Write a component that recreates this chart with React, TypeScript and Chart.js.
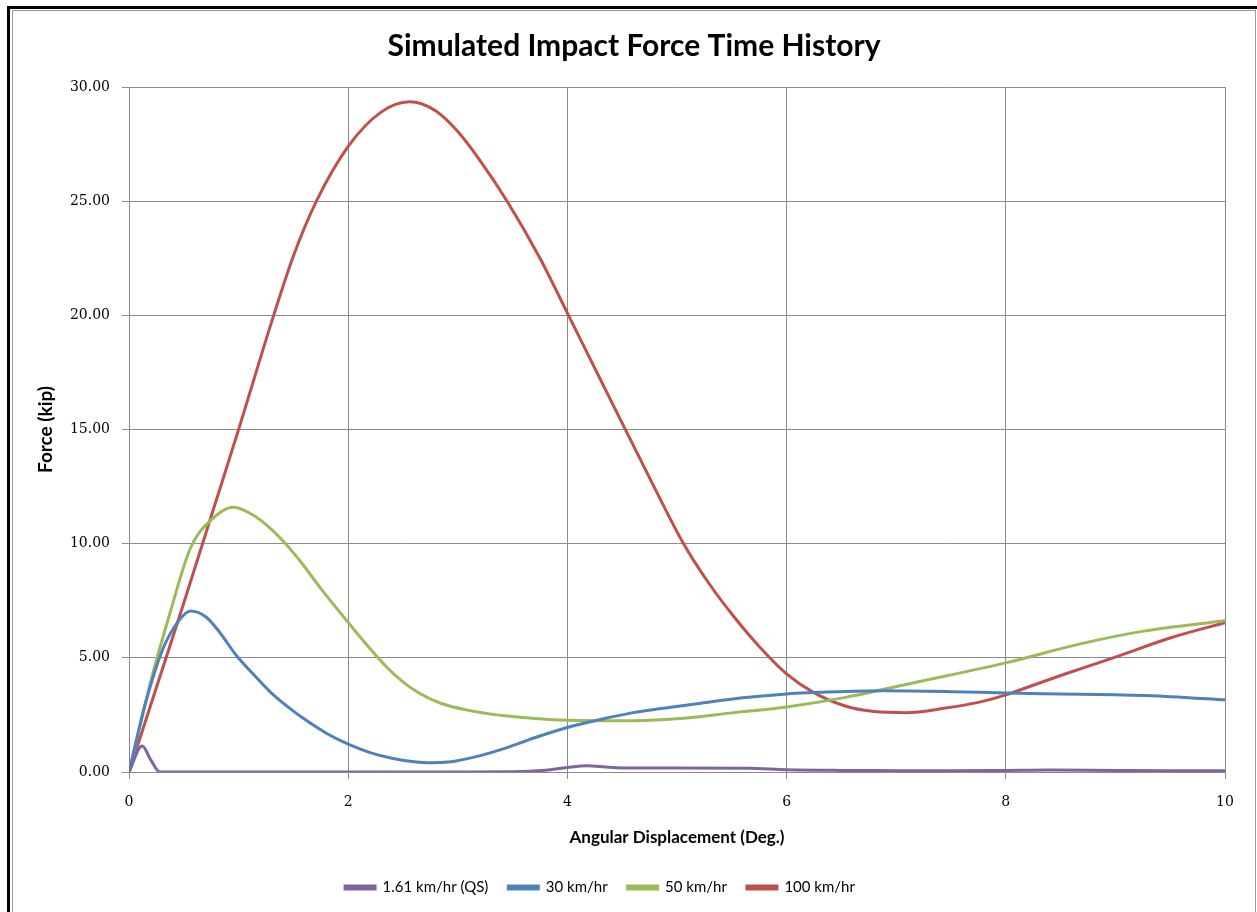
import React, { useEffect, useRef } from "react";
import { Chart, registerables } from "chart.js";

Chart.register(...registerables);

const chartTitle = "Simulated Impact Force Time History";
const xAxisTitle = "Angular Displacement (Deg.)";
const yAxisTitle = "Force (kip)";
const seriesNames = ["1.61 km/hr (QS)", "30 km/hr", "50 km/hr", "100 km/hr"];
const seriesColors = ["#8064A2", "#4F81BD", "#9BBB59", "#C0504D"];

// 1.61 km/hr (QS)
const xQS = [0, 0.12, 0.2, 0.28, 0.5, 1, 2, 3, 3.5, 3.8, 4.0, 4.18, 4.35, 4.55, 5.0, 5.65, 6.0, 6.5, 7.0, 7.5, 8.0, 8.4, 9.0, 9.5, 10];
const yQS = [0, 1.14, 0.52, 0, 0, 0, 0, 0, 0.01, 0.08, 0.2, 0.27, 0.22, 0.17, 0.17, 0.16, 0.1, 0.07, 0.06, 0.05, 0.07, 0.09, 0.07, 0.06, 0.06];

// 30 km/hr
const x30 = [0, 0.15, 0.31, 0.45, 0.56, 0.7, 0.83, 0.98, 1.15, 1.29, 1.45, 1.59, 1.8, 2.0, 2.2, 2.4, 2.6, 2.75, 2.94, 3.15, 3.45, 3.7, 4.0, 4.3, 4.6, 5.2, 5.6, 6.0, 6.5, 6.88, 7.5, 8.0, 8.5, 9.0, 9.5, 10];
const y30 = [0, 3.0, 5.4, 6.6, 7.05, 6.8, 6.1, 5.1, 4.2, 3.5, 2.85, 2.35, 1.7, 1.22, 0.85, 0.6, 0.45, 0.4, 0.45, 0.65, 1.07, 1.5, 1.95, 2.3, 2.6, 3.0, 3.25, 3.42, 3.52, 3.56, 3.52, 3.46, 3.42, 3.38, 3.3, 3.16];

// 50 km/hr
const x50 = [0, 0.2, 0.37, 0.56, 0.74, 0.95, 1.15, 1.38, 1.56, 1.74, 2.0, 2.2, 2.35, 2.5, 2.65, 2.85, 3.1, 3.45, 4.0, 4.6, 5.06, 5.52, 6.0, 6.55, 7.15, 8.0, 8.67, 9.27, 10];
const y50 = [0, 4.0, 6.9, 9.8, 11.0, 11.6, 11.2, 10.25, 9.25, 8.1, 6.55, 5.4, 4.6, 3.95, 3.45, 3.0, 2.7, 2.45, 2.27, 2.25, 2.35, 2.6, 2.85, 3.28, 3.9, 4.78, 5.6, 6.18, 6.62];

// 100 km/hr
const x100 = [0, 0.25, 0.5, 0.75, 1.0, 1.32, 1.5, 1.71, 2.0, 2.3, 2.56, 2.8, 3.0, 3.2, 3.45, 3.75, 4.0, 4.3, 4.55, 4.8, 5.06, 5.3, 5.52, 5.75, 6.0, 6.24, 6.55, 6.8, 7.09, 7.45, 7.75, 8.0, 8.25, 8.52, 8.98, 9.52, 10];
const y100 = [0, 3.7, 7.4, 11.2, 15, 20, 22.6, 25, 27.4, 28.9, 29.35, 28.95, 28.05, 26.8, 25, 22.5, 20.1, 17.2, 14.8, 12.4, 10, 8.2, 6.8, 5.5, 4.3, 3.5, 2.87, 2.65, 2.6, 2.8, 3.05, 3.38, 3.8, 4.26, 5.0, 5.9, 6.54];

const xMin = 0, xMax = 10, xStep = 2;
const yMin = 0, yMax = 30, yStep = 5;

const toPoints = (xs: number[], ys: number[]) => xs.map((x, i) => ({ x, y: ys[i] }));

const gridColor = "#8a8a8a";
const sansFont = "Lato, 'Open Sans', sans-serif";
const serifFont = "'DejaVu Serif', serif";

const shiftLegend = {
  id: "shiftLegend",
  afterLayout(chart: any) {
    const l = chart.legend;
    if (l) {
      l.left -= 34;
      l.right -= 34;
    }
  },
};

export default function App() {
  const ref = useRef<HTMLCanvasElement | null>(null);

  useEffect(() => {
    if (!ref.current) return;
    const seriesData = [toPoints(xQS, yQS), toPoints(x30, y30), toPoints(x50, y50), toPoints(x100, y100)];
    const chart = new Chart(ref.current, {
      type: "line",
      data: {
        datasets: seriesNames.map((name, i) => ({
          label: name,
          data: seriesData[i],
          borderColor: seriesColors[i],
          backgroundColor: seriesColors[i],
          borderWidth: 3,
          pointRadius: 0,
          cubicInterpolationMode: "monotone" as const,
          fill: false,
        })),
      },
      options: {
        animation: false,
        responsive: false,
        events: [],
        layout: { padding: 0 },
        plugins: {
          title: {
            display: true,
            text: chartTitle,
            color: "#000",
            font: { family: sansFont, size: 30, weight: "bold" },
            padding: { top: 17, bottom: 23 },
          },
          legend: {
            display: true,
            position: "bottom",
            labels: {
              boxWidth: 30,
              boxHeight: 3,
              padding: 20,
              color: "#000",
              font: { family: sansFont, size: 15 },
            },
          },
          tooltip: { enabled: false },
        },
        scales: {
          x: {
            type: "linear",
            min: xMin,
            max: xMax,
            ticks: {
              stepSize: xStep,
              color: "#000",
              padding: 14.6,
              font: { family: serifFont, size: 14 },
            },
            grid: { color: gridColor, lineWidth: 1, tickLength: 7 },
            border: { color: gridColor },
            title: {
              display: true,
              text: xAxisTitle,
              color: "#000",
              font: { family: sansFont, size: 17, weight: "bold" },
              padding: { top: 0, bottom: 11.8 },
            },
            afterFit: (s: any) => {
              s.height = 88;
              s.paddingLeft = 0;
              s.paddingRight = 30;
            },
          },
          y: {
            type: "linear",
            min: yMin,
            max: yMax,
            ticks: {
              stepSize: yStep,
              color: "#000",
              padding: 12,
              font: { family: serifFont, size: 14 },
              callback: (v: any) => Number(v).toFixed(2),
            },
            grid: { color: gridColor, lineWidth: 1, tickLength: 7 },
            border: { color: gridColor },
            title: {
              display: true,
              text: yAxisTitle,
              color: "#000",
              font: { family: sansFont, size: 19, weight: "bold" },
              padding: { top: 21.6, bottom: 0 },
            },
            afterFit: (s: any) => {
              s.width = 116;
              s.paddingTop = 0;
              s.paddingBottom = 0;
            },
          },
        },
      },
      plugins: [shiftLegend],
    } as any);
    return () => chart.destroy();
  }, []);

  return (
    <div>
      <div
        style={{
          position: "fixed",
          left: 7,
          top: 6,
          width: 1260,
          height: 920,
          borderLeft: "3px solid #000",
          borderTop: "3px solid #000",
          background: "#fff",
        }}
      />
      <div
        style={{
          position: "fixed",
          left: 12,
          top: 10,
          width: 1242,
          height: 920,
          border: "1px solid #9a9a9a",
          background: "#fff",
        }}
      />
      <canvas
        ref={ref}
        width={1242}
        height={894}
        style={{ position: "fixed", left: 13, top: 11, display: "block" }}
      />
    </div>
  );
}
